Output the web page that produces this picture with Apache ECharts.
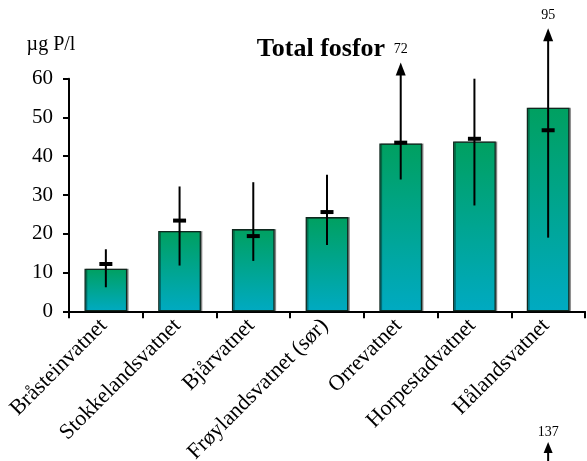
<!DOCTYPE html>
<html>
<head>
<meta charset="utf-8">
<script src="https://cdn.jsdelivr.net/npm/echarts@6/dist/echarts.min.js"></script>
<style>html,body{margin:0;padding:0;background:#fff}#c{width:587px;height:461px}</style>
</head>
<body>
<div id="c"></div>
<script>
const categories = ['Bråsteinvatnet','Stokkelandsvatnet','Bjårvatnet','Frøylandsvatnet (sør)','Orrevatnet','Horpestadvatnet','Hålandsvatnet'];
const barValues = [11.0, 20.7, 21.2, 24.3, 43.3, 43.8, 52.5];
const medianValues = [12.2, 23.4, 19.4, 25.6, 43.5, 44.5, 46.7];
const minValues = [6.2, 11.8, 13.0, 17.1, 34.0, 27.3, 19.0];
const maxValues = [16.0, 32.2, 33.3, 35.2, 72, 60.0, 95];
// where an off-scale arrow is drawn (tip), null when the max is on scale
const arrowTips = [null, null, null, null, 64.2, null, 73.0];
const yTicks = [0, 10, 20, 30, 40, 50, 60];
const extraLabel = '137';

const FONT = '"Liberation Serif", "Times New Roman", serif';
const chart = echarts.init(document.getElementById('c'), null, {renderer: 'canvas'});

const errData = categories.map((c, i) => [i, minValues[i], maxValues[i], medianValues[i], arrowTips[i]]);

chart.setOption({
  animation: false,
  backgroundColor: '#fff',
  title: {
    text: 'Total fosfor', left: 316, top: 31, textAlign: 'center',
    textStyle: {fontFamily: FONT, fontSize: 26, fontWeight: 'bold', color: '#000'}
  },
  grid: {left: 69, right: 2, top: 78.7, bottom: 149.7, containLabel: false, outerBoundsMode: 'none'},
  xAxis: {
    type: 'category', data: categories,
    axisLine: {lineStyle: {color: '#000', width: 2}},
    axisTick: {show: true, length: 7, lineStyle: {color: '#000', width: 2}, alignWithLabel: false},
    axisLabel: {rotate: 45, fontFamily: FONT, fontSize: 22, color: '#000', margin: 9, interval: 0,
      padding: [0, 3, 0, 0]}
  },
  yAxis: {
    type: 'value', min: 0, max: 60, interval: 10,
    splitLine: {show: false},
    axisLine: {show: true, lineStyle: {color: '#000', width: 2}},
    axisTick: {show: true, length: 6, lineStyle: {color: '#000', width: 2}},
    axisLabel: {fontFamily: FONT, fontSize: 21, color: '#000', margin: 16,
      formatter: v => yTicks.includes(v) ? String(v) : ''},
    name: 'µg P/l', nameLocation: 'end', nameGap: 24,
    nameTextStyle: {fontFamily: FONT, fontSize: 20, color: '#000', align: 'center', padding: [0, 36, 0, 0]}
  },
  series: [
    {
      type: 'bar', data: barValues, barWidth: '58%',
      itemStyle: {
        color: new echarts.graphic.LinearGradient(0, 0, 0, 1, [
          {offset: 0, color: '#00A060'},
          {offset: 1, color: '#00AAC2'}
        ]),
        borderColor: '#10281f', borderWidth: 1.3,
        shadowColor: 'rgba(0,0,0,0.35)', shadowOffsetX: 1.5, shadowOffsetY: 0, shadowBlur: 0
      }
    },
    {
      type: 'custom', data: errData, clip: false, z: 5,
      renderItem: function (params, api) {
        const i = api.value(0);
        const lo = api.coord([i, api.value(1)]);
        const hiV = api.value(4);
        const hasArrow = hiV != null && !isNaN(hiV);
        const hi = api.coord([i, hasArrow ? hiV : api.value(2)]);
        const md = api.coord([i, api.value(3)]);
        const x = lo[0];
        const children = [];
        children.push({type: 'line', shape: {x1: x, y1: lo[1], x2: x, y2: hasArrow ? hi[1] + 10 : hi[1]},
          style: {stroke: '#000', lineWidth: 2}});
        children.push({type: 'rect', shape: {x: x - 6.5, y: md[1] - 2, width: 13, height: 4},
          style: {fill: '#000'}});
        if (hasArrow) {
          children.push({type: 'polygon', shape: {points: [[x, hi[1]], [x - 5, hi[1] + 13], [x + 5, hi[1] + 13]]},
            style: {fill: '#000'}});
          children.push({type: 'text', x: x, y: hi[1] - 13,
            style: {text: String(api.value(2)), fontFamily: FONT, fontSize: 14, fill: '#000',
              align: 'center', verticalAlign: 'middle'}});
        }
        return {type: 'group', children: children};
      }
    }
  ]
});

// extra annotation below Hålandsvatnet
const hx = chart.convertToPixel({xAxisIndex: 0}, categories[6]);
chart.setOption({
  graphic: [
    {type: 'text', x: hx, y: 432, style: {text: extraLabel, fontFamily: FONT, fontSize: 14, fill: '#000', align: 'center', verticalAlign: 'middle'}},
    {type: 'polygon', shape: {points: [[hx, 442], [hx - 4.5, 453], [hx + 4.5, 453]]}, style: {fill: '#000'}},
    {type: 'line', shape: {x1: hx, y1: 450, x2: hx, y2: 461}, style: {stroke: '#000', lineWidth: 2}}
  ]
});
</script>
</body>
</html>
